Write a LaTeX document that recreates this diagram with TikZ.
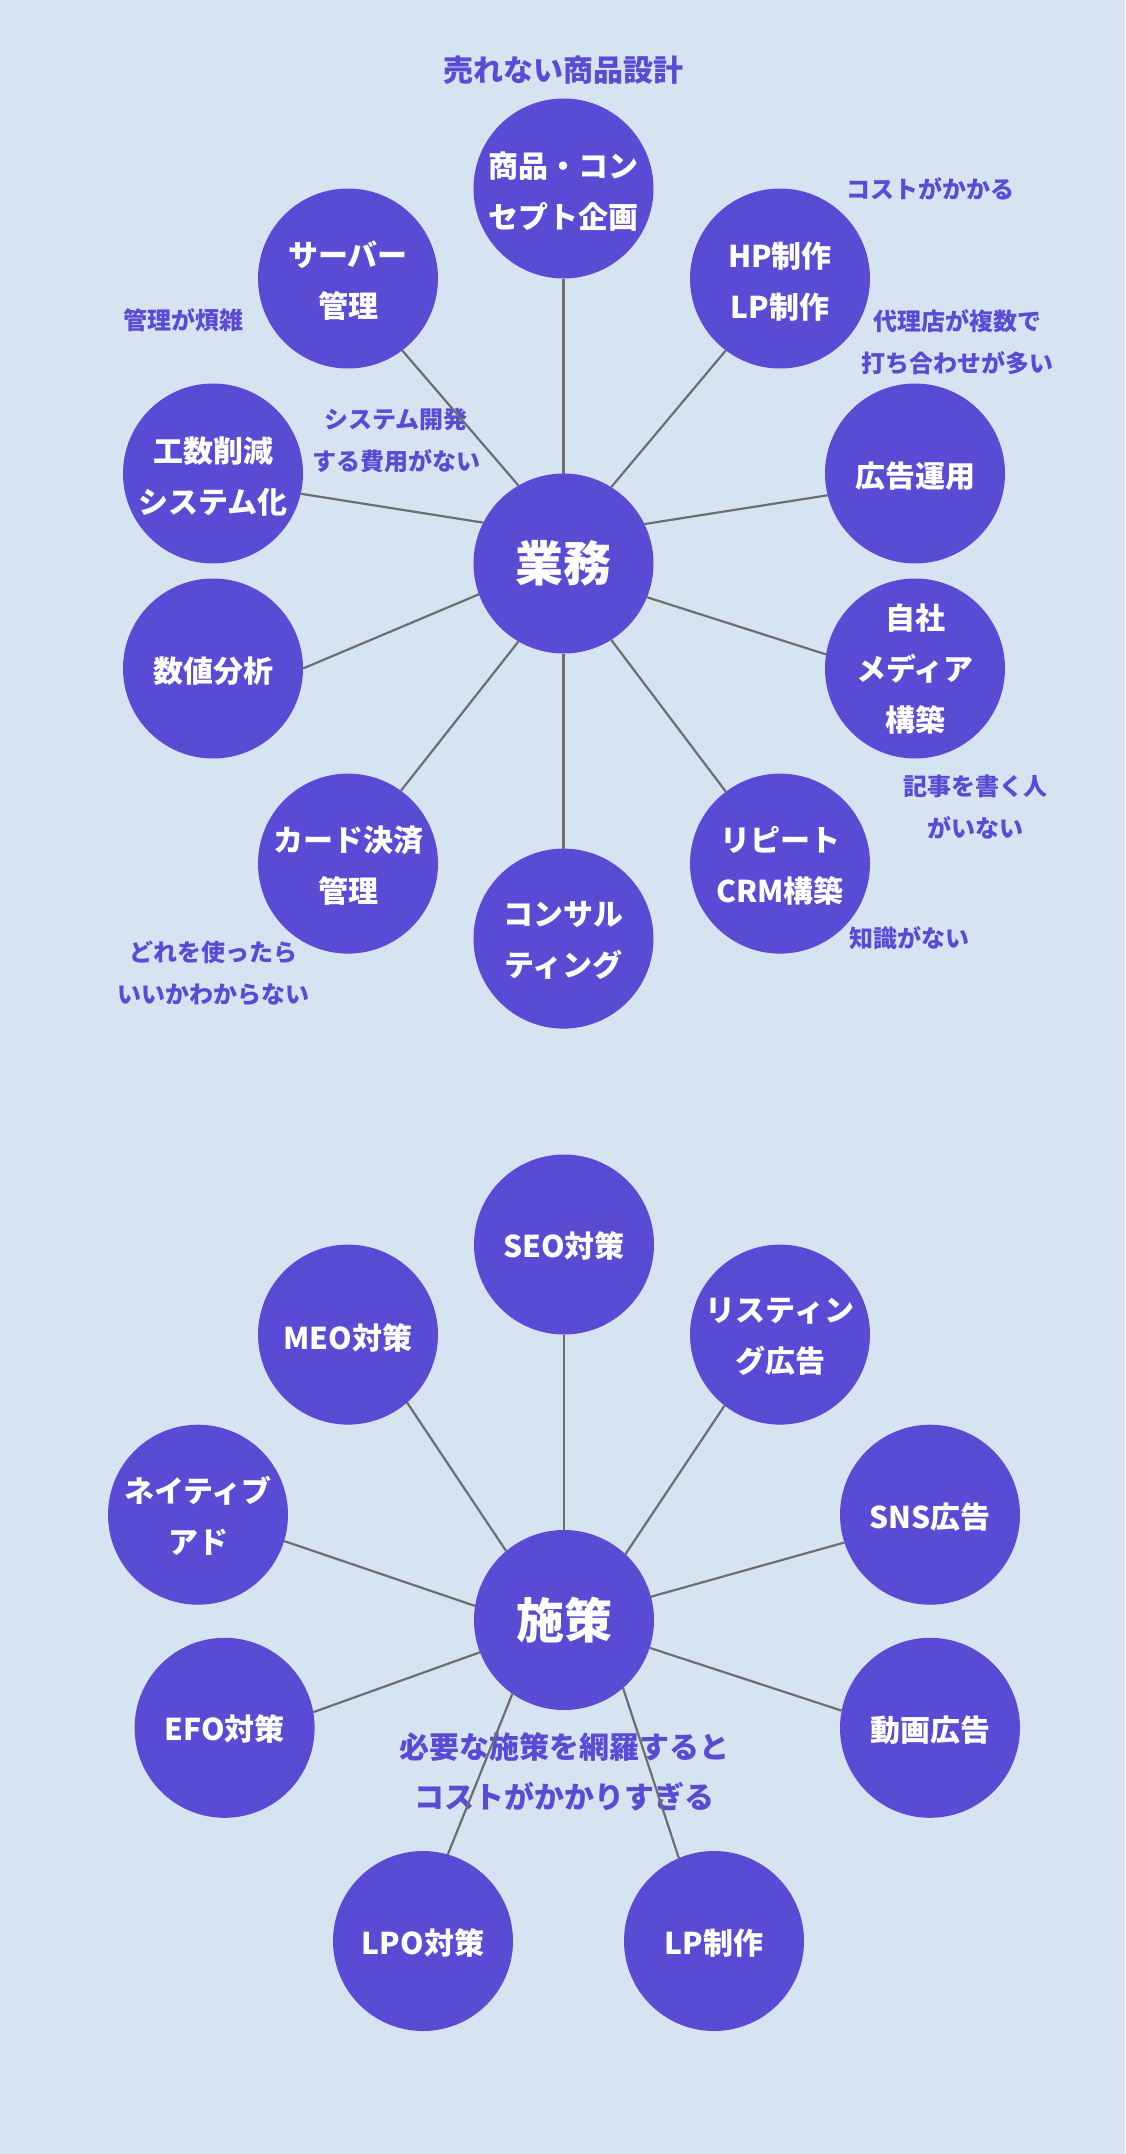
\documentclass[tikz,border=0pt]{standalone}
\usepackage{fontspec}
\setmainfont{Noto Sans CJK JP}
\definecolor{bg}{HTML}{D6E4F2}
\definecolor{pur}{HTML}{5A4BD5}
\definecolor{ln}{HTML}{6E6E6E}
\begin{document}
\begin{tikzpicture}[x=1pt,y=-1pt,
  circ/.style={circle, fill=pur, minimum size=180pt, inner sep=0pt, outer sep=0pt},
  ctext/.style={text=white, font=\bfseries\fontsize{30}{51}\selectfont, align=center, inner sep=0pt},
  bigtext/.style={text=white, font=\bfseries\fontsize{48}{56}\selectfont, inner sep=0pt},
  note/.style={text=pur, font=\bfseries\fontsize{24}{42}\selectfont, align=center, inner sep=0pt},
  headnote/.style={text=pur, font=\bfseries\fontsize{30}{50}\selectfont, align=center, inner sep=0pt},
  link/.style={draw=ln, line width=2.2pt}]
\fill[bg] (0,0) rectangle (1125,2154);
\useasboundingbox (0,0) rectangle (1125,2154);

% ---------- top cluster ----------
\node[circ] (gyomu)  at (563.5,563.5) {};
\node[circ] (shohin) at (563.5,188.5) {};
\node[circ] (hp)     at (780,278.5) {};
\node[circ] (server) at (348,278.5) {};
\node[circ] (kosu)   at (213,473.5) {};
\node[circ] (kokoku) at (915,473.5) {};
\node[circ] (suchi)  at (213,668.5) {};
\node[circ] (jisha)  at (915,668.5) {};
\node[circ] (card)   at (348,863.6) {};
\node[circ] (rep)    at (780,863.6) {};
\node[circ] (consul) at (563.5,938.6) {};

\node[bigtext] (t-gyomu)  at (gyomu.center) {業務};
\node[ctext] (t-shohin) at ([yshift=-3pt]shohin.center) {商品・コン\\セプト企画};
\node[ctext] (t-hp)     at ([yshift=-3pt]hp.center) {HP制作\\LP制作};
\node[ctext] (t-server) at ([yshift=-2pt]server.center) {サーバー\\管理};
\node[ctext] (t-kosu)   at ([yshift=-3pt]kosu.center) {工数削減\\システム化};
\node[ctext] (t-kokoku) at ([yshift=-3pt]kokoku.center) {広告運用};
\node[ctext] (t-suchi)  at ([yshift=-3pt]suchi.center) {数値分析};
\node[ctext] (t-jisha)  at ([yshift=-1pt]jisha.center) {自社\\メディア\\構築};
\node[ctext] (t-card)   at ([yshift=-2pt]card.center) {カード決済\\管理};
\node[ctext] (t-rep)    at ([yshift=-2pt]rep.center) {リピート\\CRM構築};
\node[ctext] (t-consul) at ([yshift=-2pt]consul.center) {コンサル\\ティング};

\node[headnote] (n-title) at (563.5,70) {売れない商品設計};
\node[note] (n-cost)   at (930,189) {コストがかかる};
\node[note] (n-dairi)  at (957,342) {代理店が複数で\\打ち合わせが多い};
\node[note] (n-kanri)  at (183,320.5) {管理が煩雑};
\node[note] (n-sys)    at (396,440.5) {システム開発\\する費用がない};
\node[note] (n-kiji)   at (975,807) {記事を書く人\\がいない};
\node[note] (n-chishiki) at (909,938.6) {知識がない};
\node[note] (n-dore)   at (213,973.6) {どれを使ったら\\いいかわからない};

\draw[link] (gyomu.90)     -- (shohin.-90);
\draw[link] (gyomu.58.3)   -- (hp.-127.9);
\draw[link] (gyomu.120.8)  -- (server.-53.5);
\draw[link] (gyomu.153.1)  -- (kosu.-13.7);
\draw[link] (gyomu.26.7)   -- (kokoku.-166);
\draw[link] (gyomu.-160)   -- (suchi.-0.9);
\draw[link] (gyomu.-22)    -- (jisha.171.4);
\draw[link] (gyomu.-120.7) -- (card.54.2);
\draw[link] (gyomu.-58.4)  -- (rep.127.1);
\draw[link] (gyomu.-90)    -- (consul.90);

% ---------- bottom cluster ----------
\node[circ] (shisaku) at (564,1620) {};
\node[circ] (seo)     at (564,1244.5) {};
\node[circ] (meo)     at (348,1334.6) {};
\node[circ] (listing) at (780,1334.6) {};
\node[circ] (native)  at (198,1514.7) {};
\node[circ] (sns)     at (930,1514.7) {};
\node[circ] (efo)     at (224.6,1727.8) {};
\node[circ] (doga)    at (930,1727.8) {};
\node[circ] (lpo)     at (423,1941) {};
\node[circ] (lp)      at (714,1941) {};

\node[bigtext] (t-shisaku) at (shisaku.center) {施策};
\node[ctext] (t-seo)     at ([yshift=-1pt]seo.center) {SEO対策};
\node[ctext] (t-meo)     at ([yshift=-3pt]meo.center) {MEO対策};
\node[ctext] (t-listing) at ([yshift=-2pt]listing.center) {リスティン\\グ広告};
\node[ctext] (t-native)  at ([yshift=-1pt]native.center) {ネイティブ\\アド};
\node[ctext] (t-sns)     at ([yshift=-2pt]sns.center) {SNS広告};
\node[ctext] (t-efo)     at ([yshift=-1pt]efo.center) {EFO対策};
\node[ctext] (t-doga)    at ([yshift=-2pt]doga.center) {動画広告};
\node[ctext] (t-lpo)     at ([yshift=-2pt]lpo.center) {LPO対策};
\node[ctext] (t-lp)      at ([yshift=-2pt]lp.center) {LP制作};

\node[headnote] (n-hitsuyo) at (564,1772) {必要な施策を網羅すると\\コストがかかりすぎる};

\draw[link] (shisaku.90)     -- (seo.-90);
\draw[link] (shisaku.130.7)  -- (meo.-49.3);
\draw[link] (shisaku.47.9)   -- (listing.-128);
\draw[link] (shisaku.171.4)  -- (native.-17.4);
\draw[link] (shisaku.15.8)   -- (sns.-162.1);
\draw[link] (shisaku.-159.3) -- (efo.10);
\draw[link] (shisaku.-18.8)  -- (doga.169.4);
\draw[link] (shisaku.-125)   -- (lpo.74);
\draw[link] (shisaku.-49.2)  -- (lp.113);
\end{tikzpicture}
\end{document}
